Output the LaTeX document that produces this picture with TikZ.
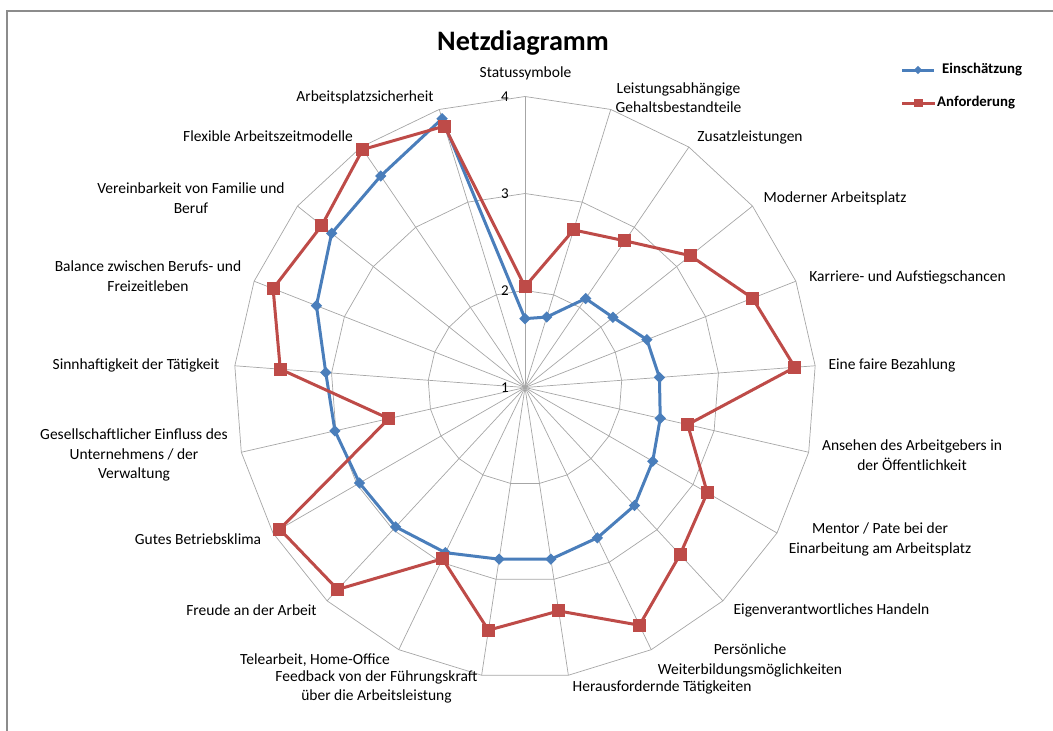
\documentclass[tikz,border=0pt]{standalone}
\usepackage{fontspec}
\setmainfont{Carlito}
\usepackage{tikz}
\usetikzlibrary{positioning, calc, shapes.geometric}
\definecolor{einblue}{HTML}{4A7EBB}
\definecolor{anfred}{HTML}{BE4B48}
\definecolor{gridgray}{HTML}{A6A6A6}
\definecolor{framegray}{HTML}{8C8C8C}
\tikzset{
	gridline/.style={draw=gridgray, line width=0.7pt},
	axislabel/.style={inner sep=0pt, align=center, font=\fontsize{15.5}{19.5}\selectfont},
	levellabel/.style={inner sep=0pt, anchor=east, font=\fontsize{15}{17}\selectfont},
	legendtext/.style={inner sep=0pt, font=\bfseries\fontsize{14.8}{17}\selectfont},
	einline/.style={draw=einblue, line width=3pt, line join=round},
	anfline/.style={draw=anfred, line width=3pt, line join=round},
	einmark/.style={diamond, fill=einblue, inner sep=0pt, minimum size=#1},
	einmark/.default=11.5pt,
	anfmark/.style={rectangle, fill=anfred, inner sep=0pt, minimum size=#1},
	anfmark/.default=13pt,
}

\begin{document}
\begin{tikzpicture}[x=1pt, y=1pt]
	\useasboundingbox (0,0) rectangle (1053,-731);
	% Rahmen
	\draw[framegray, line width=2pt] (7,-760) -- (7,-11) -- (1080,-11);
	% Titel
	\node[font=\bfseries\fontsize{28.2}{33}\selectfont, inner sep=0pt] (titel) at (523,-43) {Netzdiagramm};
	\begin{scope}[shift={(525,-387.5)}]
		\coordinate (O) at (0,0);
		% Netz
		\foreach \k in {0,...,20}
			\coordinate (s\k) at ({90-\k*360/21}:291);
		\foreach \k in {0,...,20}
			\draw[gridline] (O) -- (s\k);
		\foreach \r in {97,194,291}
			\draw[gridline] (90:\r) \foreach \k in {1,...,20} { -- ({90-\k*360/21}:\r) } -- cycle;
		% Werte der Achse
		\node[levellabel] (w1) at (-16,0) {1};
		\node[levellabel] (w2) at (-16,97) {2};
		\node[levellabel] (w3) at (-16,194) {3};
		\node[levellabel] (w4) at (-16,291) {4};
		% Einschaetzung
		\foreach \v [count=\k from 0] in {1.71,1.76,2.11,2.16,2.35,2.39,2.43,2.52,2.66,2.72,2.79,2.79,2.89,2.96,2.97,3.01,3.06,3.31,3.55,3.64,3.90}
			\coordinate (e\k) at ({90-\k*360/21}:{(\v-1)*97});
		\draw[einline] (e0) \foreach \k in {1,...,20} { -- (e\k) } -- cycle;
		\foreach \k in {0,...,20}
			\node[einmark] at (e\k) {};
		% Anforderung
		\foreach \v [count=\k from 0] in {2.04,2.70,2.83,3.18,3.52,3.79,2.72,3.17,3.35,3.72,3.33,3.53,2.96,3.84,3.92,2.44,3.53,3.79,3.68,3.97,3.82}
			\coordinate (a\k) at ({90-\k*360/21}:{(\v-1)*97});
		\draw[anfline] (a0) \foreach \k in {1,...,20} { -- (a\k) } -- cycle;
		\foreach \k in {0,...,20}
			\node[anfmark] at (a\k) {};
	\end{scope}
	% Kategorien
	\node[axislabel] (status) at (525.5,-73.5) {Statussymbole};
	\node[axislabel] (gehalt) at (678.5,-97.5) {Leistungsabhängige\\Gehaltsbestandteile};
	\node[axislabel] (zusatz) at (750,-137) {Zusatzleistungen};
	\node[axislabel] (modern) at (835,-198.5) {Moderner Arbeitsplatz};
	\node[axislabel] (karriere) at (907.5,-277) {Karriere- und Aufstiegschancen};
	\node[axislabel] (bezahlung) at (892,-365) {Eine faire Bezahlung};
	\node[axislabel] (ansehen) at (912,-455) {Ansehen des Arbeitgebers in\\der Öffentlichkeit};
	\node[axislabel] (mentor) at (880,-539.5) {Mentor / Pate bei der\\Einarbeitung am Arbeitsplatz};
	\node[axislabel] (eigen) at (831.5,-610) {Eigenverantwortliches Handeln};
	\node[axislabel] (weiter) at (750,-660.5) {Persönliche\\Weiterbildungsmöglichkeiten};
	\node[axislabel] (heraus) at (662,-687) {Herausfordernde Tätigkeiten};
	\node[axislabel] (feedback) at (376.5,-687) {Feedback von der Führungskraft\\über die Arbeitsleistung};
	\node[axislabel] (tele) at (315,-660.5) {Telearbeit, Home-Office};
	\node[axislabel] (freude) at (251.5,-610) {Freude an der Arbeit};
	\node[axislabel] (klima) at (198,-539) {Gutes Betriebsklima};
	\node[axislabel] (einfluss) at (134,-455) {Gesellschaftlicher Einfluss des\\Unternehmens / der\\Verwaltung};
	\node[axislabel] (sinn) at (136,-365) {Sinnhaftigkeit der Tätigkeit};
	\node[axislabel] (balance) at (148,-276) {Balance zwischen Berufs- und\\Freizeitleben};
	\node[axislabel] (familie) at (191,-198) {Vereinbarkeit von Familie und\\Beruf};
	\node[axislabel] (flexibel) at (268,-136.5) {Flexible Arbeitszeitmodelle};
	\node[axislabel] (sicherheit) at (365,-97) {Arbeitsplatzsicherheit};
	% Legende
	\coordinate (le1) at (902,-70);
	\coordinate (le2) at (934,-70);
	\draw[einline] (le1) -- (le2);
	\node[einmark=8.5pt] (lem) at ($(le1)!0.5!(le2)$) {};
	\node[legendtext, right=8pt of le2] (let) {Einschätzung};
	\coordinate (la1) at (902,-103);
	\coordinate (la2) at (935,-103);
	\draw[anfline] (la1) -- (la2);
	\node[anfmark=8.5pt] (lam) at ($(la1)!0.5!(la2)$) {};
	\node[legendtext, right=2pt of la2] (lat) {Anforderung};
\end{tikzpicture}
\end{document}
